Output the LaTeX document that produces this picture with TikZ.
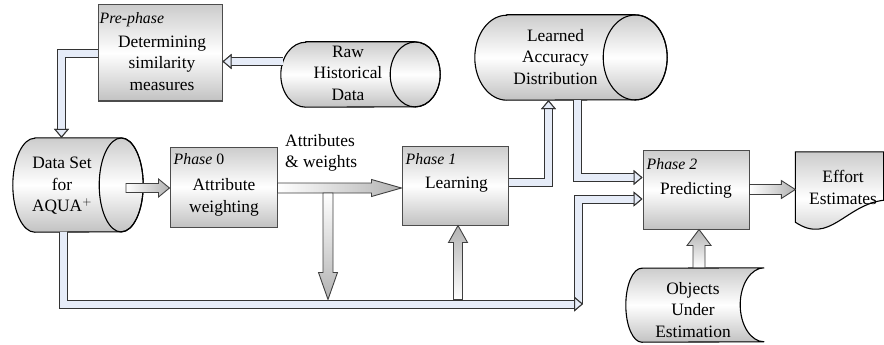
\documentclass[tikz,border=0pt]{standalone}
\usepackage{fontspec}
\setmainfont{Liberation Serif}
\usetikzlibrary{arrows.meta,calc}

\definecolor{pipeblue}{RGB}{230,236,248}

\tikzset{
  every node/.style={font=\fontsize{17.4}{21.5}\selectfont, align=center, inner sep=0pt},
  tag/.style={font=\fontsize{15.8}{18}\selectfont\itshape, anchor=west, inner sep=0pt},
  shade3/.style={top color=gray!40, bottom color=gray!48, middle color=white},
  phasebox/.style={draw=black!70, line width=1pt, shade3},
  outline/.style={draw=black, line width=1.1pt},
  pipe/.style={draw=pipeblue, line width=7pt, preaction={draw=black!80, line width=9pt}},
  ptip/.tip={Triangle[length=9pt, width=15pt, line width=1pt, color=black!80, fill=pipeblue]},
  fat/.style={draw=black!75, line width=0.9pt},
}

% cylinder round a frame node: name, x radius, y radius
\newcommand{\drum}[3]{%
  \draw[outline, shade3]
    ([xshift=#2]#1.north west) -- ([xshift=-#2]#1.north east)
    arc[start angle=90, end angle=-90, x radius=#2, y radius=#3]
    -- ([xshift=#2]#1.south west)
    arc[start angle=270, end angle=90, x radius=#2, y radius=#3] -- cycle;
  \draw[outline] ([xshift=-#2]#1.east) ellipse[x radius=#2, y radius=#3];}

% block arrows: tail, tip, shaft half width, head half width, head length
\newcommand{\fatright}[5]{%
  \draw[fat, left color=white, right color=gray!60]
    ($(#1)+(0,#3)$) -- ($(#2)+(-#5,#3)$) -- ($(#2)+(-#5,#4)$) -- (#2)
    -- ($(#2)+(-#5,-#4)$) -- ($(#2)+(-#5,-#3)$) -- ($(#1)+(0,-#3)$) -- cycle;}
\newcommand{\fatup}[5]{%
  \draw[fat, bottom color=white, top color=gray!60]
    ($(#1)+(#3,0)$) -- ($(#2)+(#3,-#5)$) -- ($(#2)+(#4,-#5)$) -- (#2)
    -- ($(#2)+(-#4,-#5)$) -- ($(#2)+(-#3,-#5)$) -- ($(#1)+(-#3,0)$) -- cycle;}
\newcommand{\fatdown}[5]{%
  \draw[fat, top color=white, bottom color=gray!60]
    ($(#1)+(#3,0)$) -- ($(#2)+(#3,#5)$) -- ($(#2)+(#4,#5)$) -- (#2)
    -- ($(#2)+(-#4,#5)$) -- ($(#2)+(-#3,#5)$) -- ($(#1)+(-#3,0)$) -- cycle;}

\begin{document}
\begin{tikzpicture}[x=1pt, y=1pt]
  \useasboundingbox (0,0) rectangle (884,-345);

  \node[phasebox, minimum width=124pt, minimum height=96pt] (pre) at (160,-53) {};
  \node[phasebox, minimum width=107pt, minimum height=80pt] (p0) at (223.5,-187) {};
  \node[phasebox, minimum width=106pt, minimum height=79pt] (p1) at (455,-185.5) {};
  \node[phasebox, minimum width=106pt, minimum height=79pt] (p2) at (696,-189.5) {};

  \node[minimum width=159pt, minimum height=65pt] (raw) at (360.5,-74.5) {};
  \node[minimum width=192pt, minimum height=85pt] (lad) at (571,-57.5) {};
  \node[minimum width=130pt, minimum height=94pt] (ds) at (78,-185) {};
  \node[minimum width=88pt, minimum height=70pt] (eff) at (839.5,-187) {};
  \node[minimum width=138pt, minimum height=74pt] (obj) at (695,-305) {};

  \drum{raw}{25}{32.5}
  \drum{lad}{32}{42.5}
  \drum{ds}{22}{47}

  \draw[outline, shade3] (eff.south west) -- (eff.north west) -- (eff.north east)
    -- ([yshift=22]eff.south east)
    .. controls ([xshift=-39,yshift=17]eff.south east) and ([xshift=-54,yshift=-23]eff.south east)
    .. (eff.south west) -- cycle;
  \draw[outline, shade3] (obj.north east)
    arc[start angle=90, end angle=270, x radius=24, y radius=37]
    -- ([xshift=16]obj.south west)
    arc[start angle=270, end angle=90, x radius=16, y radius=37] -- cycle;

  % pipes
  \coordinate (pa) at (61.5,-53.5);
  \coordinate (rawout) at ([xshift=2,yshift=13]raw.west);
  \coordinate (pc) at (548.5,-182.5);
  \coordinate (pd) at (577,-177.5);
  \coordinate (pe) at (63,-304);
  \coordinate (pecorner) at (583,-304);
  \coordinate (pe2) at (578,-199);

  \draw[pipe, -ptip] (pre.west |- pa) -| (pa |- ds.north);
  \draw[pipe, -ptip] (rawout) -- (rawout -| pre.east);
  \draw[pipe, -ptip] (p1.east |- pc) -| (pc |- lad.south);
  \draw[pipe, -ptip] (pd |- lad.south) |- (p2.west |- pd);
  \draw[pipe, -ptip] (pe2 |- pe) |- (p2.west |- pe2);
  \draw[pipe, -ptip] (pe |- ds.south) |- (pecorner);

  % block arrows
  \coordinate (dsout) at (126,-188);
  \coordinate (f1t) at (p0.west |- dsout);
  \coordinate (f2s) at (p0.east |- dsout);
  \coordinate (f2t) at (p1.west |- dsout);
  \coordinate (f3s) at (328,-193);
  \coordinate (f3t) at ($(f3s |- pe)+(0,4.5)$);
  \coordinate (f4s) at (458,-299.5);
  \coordinate (f4t) at (f4s |- p1.south);
  \coordinate (f5s) at ($(obj.north)+(4,0)$);
  \coordinate (f5t) at (f5s |- p2.south);
  \coordinate (f6s) at (p2.east);
  \coordinate (f6t) at (eff.west |- f6s);

  \fatright{dsout}{f1t}{4.5}{9}{11}
  \fatright{f2s}{f2t}{5}{8.5}{30}
  \fatdown{f3s}{f3t}{5}{9.5}{27}
  \fatup{f4s}{f4t}{4.5}{9.5}{17}
  \fatup{f5s}{f5t}{6}{12}{16}
  \fatright{f6s}{f6t}{5}{9}{14}

  % texts
  \node[tag] (prel) at ([xshift=2,yshift=-15]pre.north west) {Pre-phase};
  \node[tag] (p0l) at ([xshift=4,yshift=-13]p0.north west) {Phase \upshape 0};
  \node[tag] (p1l) at ([xshift=4,yshift=-14]p1.north west) {Phase 1};
  \node[tag] (p2l) at ([xshift=4,yshift=-15]p2.north west) {Phase 2};

  \node (pret) at (162,-63) {Determining\\similarity\\measures};
  \node (p0t) at (224,-197.5) {Attribute\\weighting};
  \node (p1t) at (456.5,-185) {Learning};
  \node (p2t) at (696,-190) {Predicting};
  \node (rawt) at (348,-73) {Raw\\Historical\\Data};
  \node (ladt) at (555.5,-57) {Learned\\Accuracy\\Distribution};
  \node (dst) at (62,-186) {Data Set\\for\\AQUA$^+$};
  \node (efft) at (843,-187.5) {Effort\\Estimates};
  \node (objt) at (693,-310) {Objects\\Under\\Estimation};
  \node[align=left, anchor=west] (awt) at (285,-153) {Attributes\\\& weights};
\end{tikzpicture}
\end{document}
